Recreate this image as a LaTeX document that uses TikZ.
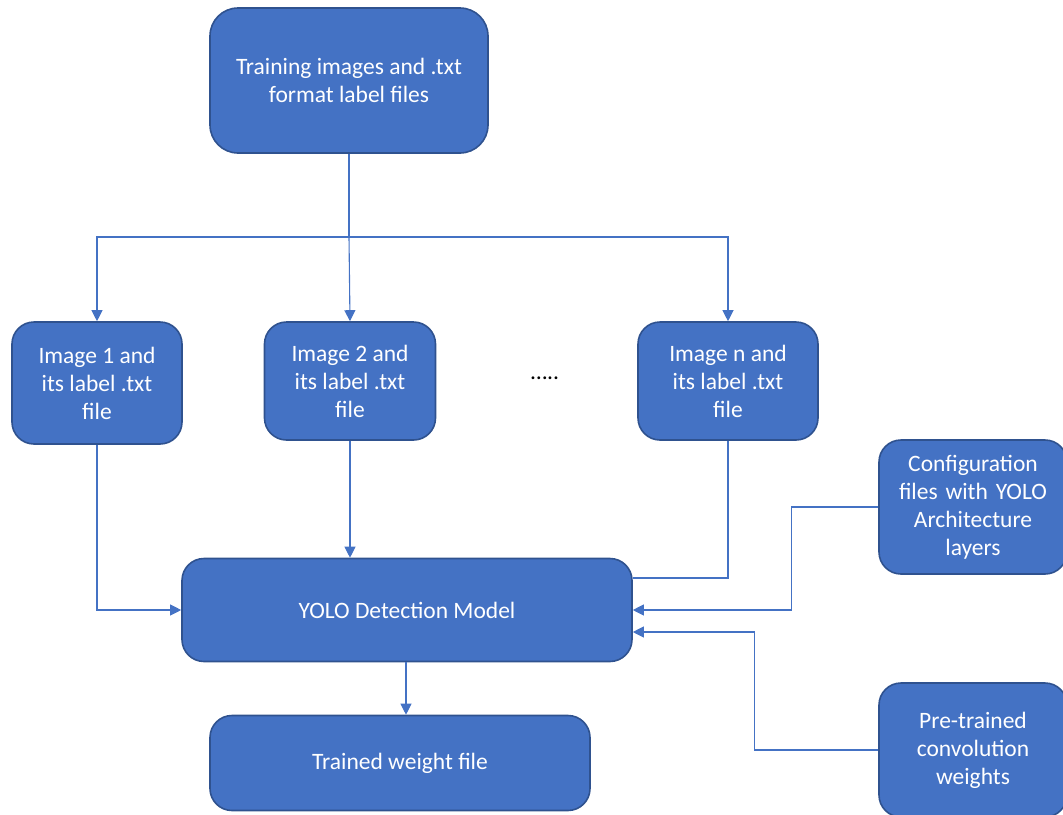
\documentclass[tikz,border=0pt]{standalone}
\usepackage{fontspec}
\setmainfont{Carlito}
\usetikzlibrary{arrows.meta}
\definecolor{boxfill}{HTML}{4472C4}
\definecolor{boxedge}{HTML}{2F528F}
\definecolor{wire}{HTML}{4472C4}
\begin{document}
\begin{tikzpicture}[x=1pt,y=1pt,
  block/.style={draw=boxedge, line width=1.6pt, fill=boxfill, text=white,
    rounded corners=22pt, inner sep=0pt, align=center,
    font=\fontsize{23.5}{28}\selectfont},
  wireline/.style={draw=wire, line width=1.1pt},
  arr/.style={wireline, -{Triangle[length=11pt,width=11pt]}}]
\useasboundingbox (0,0) rectangle (1063,-814);
\begin{scope}
\clip (0,0) rectangle (1063,-814);
% boxes
\node[block, rounded corners=28pt, minimum width=278pt, minimum height=145pt] (top) at (349,-80.5)
  {Training images and .txt\\format label files};
\node[block, minimum width=170pt, minimum height=122pt] (img1) at (97,-383)
  {Image 1 and\\its label .txt\\file};
\node[block, minimum width=171pt, minimum height=118pt] (img2) at (350,-381)
  {Image 2 and\\its label .txt\\file};
\node[block, minimum width=180pt, minimum height=118pt] (imgn) at (728,-381)
  {Image n and\\its label .txt\\file};
\node[font=\fontsize{23.5}{28}\selectfont] (dots) at (545,-378) {\dots..};
\node[block, minimum width=188pt, minimum height=134pt, text width=180pt] (cfg) at (973,-507)
  {Configuration\\files with YOLO\\Architecture\\layers};
\node[block, minimum width=450pt, minimum height=103pt] (yolo) at (407,-610)
  {YOLO Detection Model};
\node[block, minimum width=380pt, minimum height=95pt] (trained) at (400,-763)
  {Trained weight file};
\node[block, minimum width=188pt, minimum height=134pt, text width=180pt] (pre) at (973,-750)
  {Pre-trained\\convolution\\weights};
% connectors
\coordinate (split) at (349,-237);
\draw[wireline] (top.south) -- (split);
\draw[arr] (split) -| (img1.north);
\draw[arr] (split) -- (img2.north);
\draw[arr] (split) -| (imgn.north);
\draw[arr] (img1.south) |- (yolo.west);
\draw[arr] (img2.south) -- (img2.south |- yolo.north);
\draw[wireline] (imgn.south) |- ([yshift=32pt]yolo.east);
\draw[arr] (cfg.west) -- ++(-87,0) |- (yolo.east);
\draw[arr] (pre.west) -- ++(-124,0) |- ([yshift=-22pt]yolo.east);
\draw[arr] ([xshift=-1pt]yolo.south) -- ([xshift=-1pt]yolo.south |- trained.north);
\end{scope}
\end{tikzpicture}
\end{document}
